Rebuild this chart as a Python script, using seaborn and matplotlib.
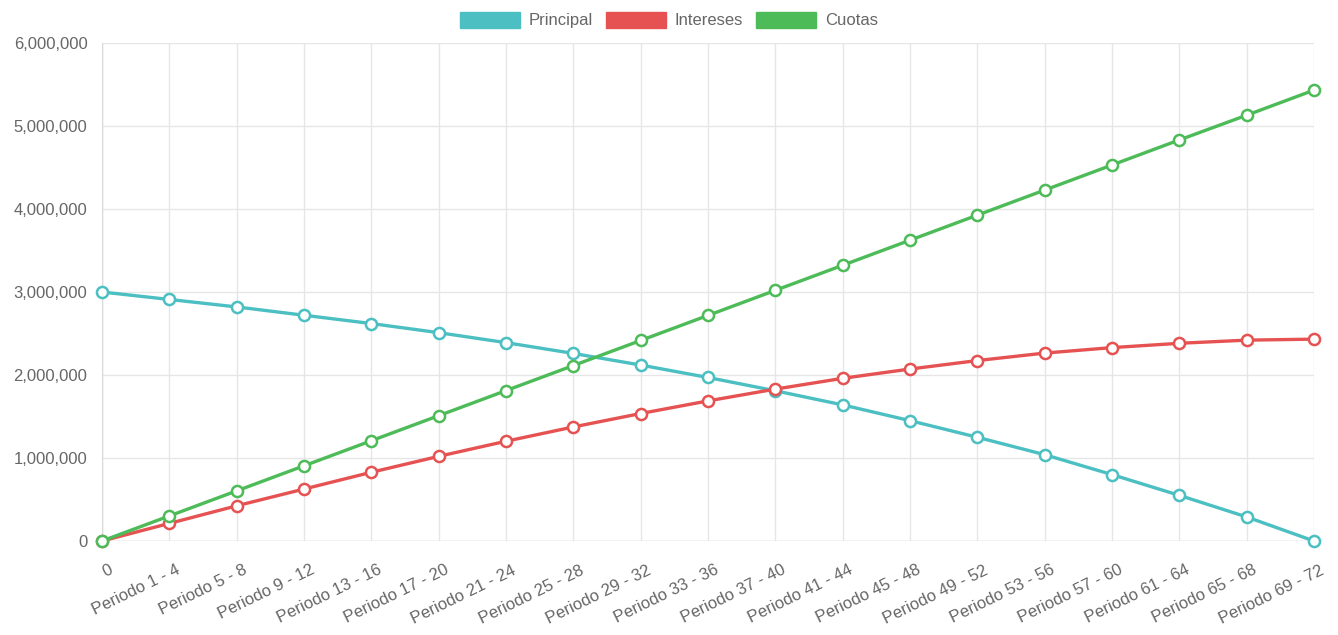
import matplotlib
matplotlib.use("Agg")
import matplotlib.pyplot as plt
import matplotlib.ticker as mticker
import matplotlib.transforms as mtransforms
from matplotlib.patches import Patch
import numpy as np
import pandas as pd
import seaborn as sns

# categories on the x axis
periodos = ["0"] + ["Periodo %d - %d" % (i, i + 3) for i in range(1, 72, 4)]

# values
principal = [3000000, 2910000, 2820000, 2720000, 2620000, 2510000, 2390000, 2260000,
             2120000, 1970000, 1810000, 1640000, 1450000, 1250000, 1040000, 800000,
             550000, 290000, 0]
intereses = [0, 212000, 424000, 626000, 828000, 1020000, 1202000, 1374000, 1536000,
             1688000, 1830000, 1960000, 2072000, 2174000, 2264000, 2330000, 2382000,
             2420000, 2432000]
cuotas = [0, 302000, 604000, 906000, 1208000, 1510000, 1812000, 2114000, 2416000,
          2718000, 3020000, 3322000, 3624000, 3926000, 4228000, 4530000, 4832000,
          5130000, 5432000]

series = {"Principal": principal, "Intereses": intereses, "Cuotas": cuotas}
colores = {"Principal": "#4bbfc1", "Intereses": "#e65252", "Cuotas": "#4cbb58"}

sns.set_style("white")
plt.rcParams["font.family"] = ["Liberation Sans", "DejaVu Sans"]

fig = plt.figure(figsize=(13.38, 6.35), dpi=100)
ax = fig.add_axes([102 / 1338, 1 - 541 / 635, (1314 - 102) / 1338, (541 - 43) / 635])

grid_col = "#e6e6e6"
text_col = "#666666"

for name, vals in series.items():
    df = pd.DataFrame({"x": np.arange(len(periodos)), "y": vals})
    sns.lineplot(data=df, x="x", y="y", ax=ax, color=colores[name], linewidth=2.4,
                 marker="o", markersize=8, markerfacecolor="white",
                 markeredgecolor=colores[name], markeredgewidth=1.8, clip_on=False,
                 zorder=3)

ax.set_xlim(0, len(periodos) - 1)
ax.set_ylim(0, 6000000)
ax.set_xticks(np.arange(len(periodos)))
ax.set_xticklabels(periodos, rotation=26, ha="right", rotation_mode="anchor")
ax.set_yticks(np.arange(0, 6000001, 1000000))
ax.yaxis.set_major_formatter(mticker.FuncFormatter(lambda v, p: f"{int(v):,}"))
ax.set_xlabel("")
ax.set_ylabel("")

ax.grid(True, color=grid_col, linewidth=1)
ax.set_axisbelow(True)
for s in ax.spines.values():
    s.set_visible(False)
ax.axhline(0, color="#d9d9d9", linewidth=1, zorder=1)
ax.axvline(0, color="#d9d9d9", linewidth=1, zorder=1)
ax.tick_params(axis="both", length=7.5, color=grid_col, labelcolor=text_col,
               labelsize=12, pad=3)
ax.tick_params(axis="x", pad=8)

# shift the rotated labels a little to the right, like the original
offset = mtransforms.ScaledTranslation(6 / 100, 0, fig.dpi_scale_trans)
for lbl in ax.get_xticklabels():
    lbl.set_transform(lbl.get_transform() + offset)

handles = [Patch(facecolor=colores[n], edgecolor=colores[n], label=n) for n in series]
fig.legend(handles=handles, loc="center", bbox_to_anchor=(0.5, 1 - 20 / 635), ncol=3,
           frameon=False, handlelength=3.6, handleheight=1.15, columnspacing=0.8,
           handletextpad=0.5, fontsize=12, labelcolor=text_col)

fig.savefig("out.png", dpi=100, facecolor="white")
